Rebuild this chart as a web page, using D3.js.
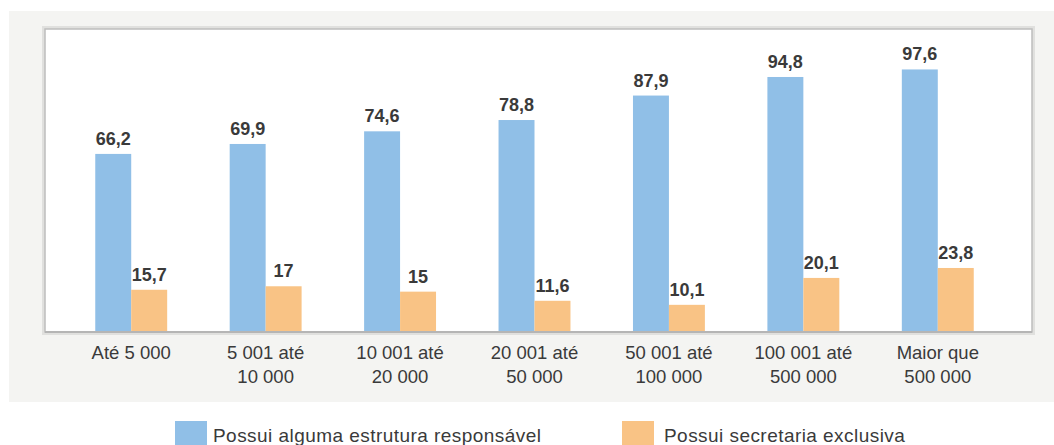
<!DOCTYPE html>
<html>
<head>
<meta charset="utf-8">
<script src="https://cdn.jsdelivr.net/npm/d3@7/dist/d3.min.js"></script>
<style>
  html, body { margin: 0; padding: 0; background: #ffffff; }
  svg { display: block; }
  text { font-family: "Liberation Sans", Arial, Helvetica, sans-serif; fill: #3a3a3a; }
</style>
</head>
<body>
<svg id="chart" width="1054" height="445"></svg>
<script>
// Municipality population classes (each label split into its printed lines)
const categories = [
  ["Até 5 000"],
  ["5 001 até", "10 000"],
  ["10 001 até", "20 000"],
  ["20 001 até", "50 000"],
  ["50 001 até", "100 000"],
  ["100 001 até", "500 000"],
  ["Maior que", "500 000"]
];
const seriesNames = ["Possui alguma estrutura responsável", "Possui secretaria exclusiva"];
const estrutura = [66.2, 69.9, 74.6, 78.8, 87.9, 94.8, 97.6];
const secretaria = [15.7, 17, 15, 11.6, 10.1, 20.1, 23.8];
const seriesColors = ["#90bfe7", "#f9c385"];

const svg = d3.select("#chart");
const W = 1054, H = 445;

// Panel background and framed plot area
const panel = { x: 9, y: 11, w: W - 9, h: 391 };
const plot = { left: 45, top: 29, right: 1032, bottom: 332 };

svg.append("rect")
  .attr("x", panel.x).attr("y", panel.y)
  .attr("width", panel.w).attr("height", panel.h)
  .attr("fill", "#f4f4f2");

// soft shadow around the frame
svg.append("rect")
  .attr("x", plot.left - 1.5).attr("y", plot.top - 1.5)
  .attr("width", plot.right - plot.left + 3).attr("height", plot.bottom - plot.top + 3)
  .attr("fill", "none").attr("stroke", "#e0e0de").attr("stroke-width", 3);
svg.append("rect")
  .attr("x", plot.left).attr("y", plot.top)
  .attr("width", plot.right - plot.left).attr("height", plot.bottom - plot.top)
  .attr("fill", "#ffffff").attr("stroke", "#bdbdbd").attr("stroke-width", 1.5);

const keys = categories.map(c => c.join(" "));
const x0 = d3.scaleBand().domain(keys).range([64, 1005])
  .paddingInner(0.465).paddingOuter(0.2325);
const x1 = d3.scaleBand().domain([0, 1]).range([0, x0.bandwidth()]);
const y = d3.scaleLinear().domain([0, 100]).range([plot.bottom, 63]);

const locale = d3.formatLocale({ decimal: ",", thousands: " ", grouping: [3], currency: ["", ""] });
const fmt = locale.format("~f");

const rows = keys.map((k, i) => ({ key: k, values: [estrutura[i], secretaria[i]] }));

const groups = svg.append("g").selectAll("g")
  .data(rows).join("g")
  .attr("transform", d => `translate(${x0(d.key)},0)`);

groups.selectAll("rect")
  .data(d => d.values.map((v, s) => ({ v, s })))
  .join("rect")
  .attr("x", d => x1(d.s))
  .attr("y", d => y(d.v))
  .attr("width", x1.bandwidth())
  .attr("height", d => y(0) - y(d.v))
  .attr("fill", d => seriesColors[d.s]);

groups.selectAll("text.value")
  .data(d => d.values.map((v, s) => ({ v, s })))
  .join("text")
  .attr("class", "value")
  .attr("x", d => x1(d.s) + x1.bandwidth() / 2)
  .attr("y", d => y(d.v) - 9)
  .attr("text-anchor", "middle")
  .attr("font-size", "18px")
  .attr("font-weight", "bold")
  .text(d => fmt(d.v));

// baseline
svg.append("line")
  .attr("x1", plot.left).attr("x2", plot.right)
  .attr("y1", y(0)).attr("y2", y(0))
  .attr("stroke", "#b5b5b5").attr("stroke-width", 2);

// category labels
const xAxis = svg.append("g")
  .attr("transform", `translate(0,${plot.bottom})`)
  .call(d3.axisBottom(x0).tickSize(0).tickFormat(""));
xAxis.select(".domain").remove();
xAxis.selectAll(".tick").each(function (k, i) {
  const t = d3.select(this).append("text")
    .attr("text-anchor", "middle")
    .attr("font-size", "18.5px")
    .attr("y", 27);
  categories[i].forEach((line, j) => {
    t.append("tspan").attr("x", 0).attr("dy", j === 0 ? 0 : 24).text(line);
  });
});

// legend
const legendX = [175, 622];
const legendTextX = [38, 42];
const legend = svg.append("g").selectAll("g")
  .data(seriesNames).join("g")
  .attr("transform", (d, i) => `translate(${legendX[i]},421)`);
legend.append("rect")
  .attr("width", 32).attr("height", 26)
  .attr("fill", (d, i) => seriesColors[i]);
legend.append("text")
  .attr("x", (d, i) => legendTextX[i]).attr("y", 20.5)
  .attr("font-size", "19px")
  .attr("letter-spacing", "0.45px")
  .text(d => d);
</script>
</body>
</html>
